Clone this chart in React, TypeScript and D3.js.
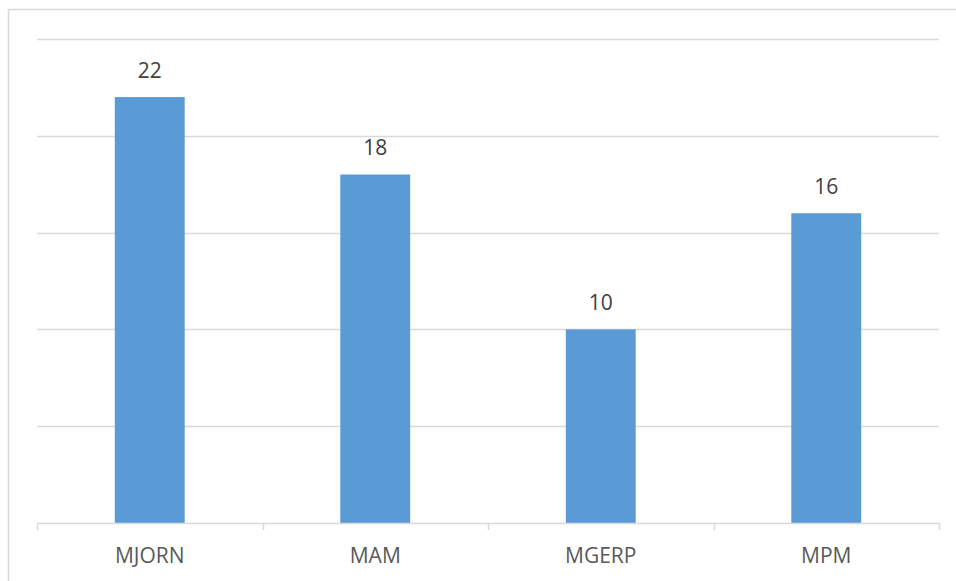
import React from "react";
import * as d3 from "d3";

const categories = ["MJORN", "MAM", "MGERP", "MPM"];
const values = [22, 18, 10, 16];
const yTicks = [0, 5, 10, 15, 20, 25];

const W = 956;
const H = 581;
const plot = { left: 37, right: 939, top: 39, bottom: 523 };

export default function App() {
  const x = d3
    .scaleBand<string>()
    .domain(categories)
    .range([plot.left, plot.right])
    .paddingInner(0.69)
    .paddingOuter(0.345);
  const band = d3.scaleBand<string>().domain(categories).range([plot.left, plot.right]);
  const y = d3.scaleLinear().domain([0, 25]).range([plot.bottom, plot.top]);
  const font = "'Open Sans', sans-serif";
  const boundaries = [...categories.map((c) => band(c) as number), plot.right];

  return (
    <svg
      width={W}
      height={H}
      style={{ position: "absolute", left: 0, top: 0, background: "#fff" }}
    >
      <rect x={8.5} y={9.5} width={1000} height={700} fill="#fff" stroke="#D9D9D9" strokeWidth={1.5} />
      {yTicks.slice(1).map((t) => (
        <line
          key={t}
          x1={plot.left}
          x2={plot.right}
          y1={Math.round(y(t)) + 0.5}
          y2={Math.round(y(t)) + 0.5}
          stroke="#D9D9D9"
          strokeWidth={1.5}
        />
      ))}
      {categories.map((c, i) => {
        const cx = (x(c) as number) + x.bandwidth() / 2;
        return (
          <g key={c}>
            <rect
              x={x(c)}
              y={y(values[i])}
              width={x.bandwidth()}
              height={y(0) - y(values[i])}
              fill="#5B9BD5"
            />
            <text
              x={cx}
              y={y(values[i]) - 19.5}
              textAnchor="middle"
              fontFamily={font}
              fontSize={21}
              fill="#404040"
            >
              {values[i]}
            </text>
            <text
              x={(band(c) as number) + band.bandwidth() / 2}
              y={563}
              textAnchor="middle"
              fontFamily={font}
              fontSize={21}
              fill="#595959"
            >
              {c}
            </text>
          </g>
        );
      })}
      <line
        x1={plot.left}
        x2={plot.right}
        y1={plot.bottom + 0.5}
        y2={plot.bottom + 0.5}
        stroke="#D9D9D9"
        strokeWidth={1.5}
      />
      {boundaries.map((b, i) => (
        <line
          key={i}
          x1={Math.round(b) + 0.5}
          x2={Math.round(b) + 0.5}
          y1={plot.bottom}
          y2={plot.bottom + 7}
          stroke="#D9D9D9"
          strokeWidth={1.5}
        />
      ))}
    </svg>
  );
}
